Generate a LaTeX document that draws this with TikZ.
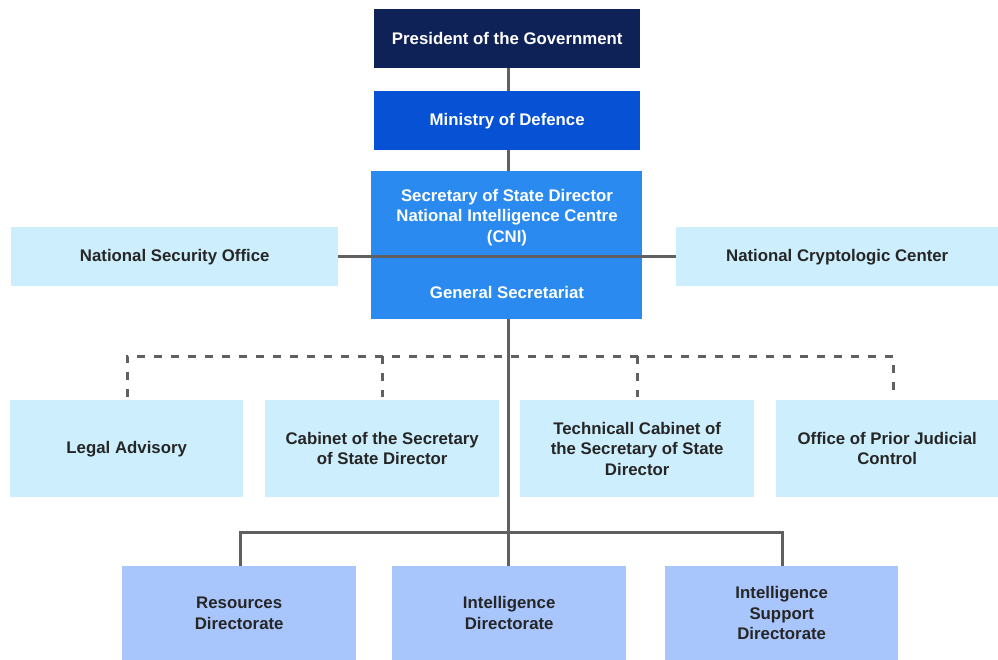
\documentclass[tikz,border=0pt]{standalone}
\usepackage{fontspec}
\setmainfont{Liberation Sans}
\begin{document}
\begin{tikzpicture}[x=1pt,y=-1pt,
  txt/.style={font=\fontsize{16.8}{20.5}\selectfont\bfseries},
  box/.style={anchor=north west, inner sep=0pt, align=center, txt},
  navy/.style={fill=c1, text=white},
  royal/.style={fill=c2, text=white},
  mid/.style={fill=c3, text=white},
  pale/.style={fill=c4, text=black!85},
  lav/.style={fill=c5, text=black!85},
  conn/.style={draw=lc, line width=3pt},
  dconn/.style={draw=lc, line width=3pt, dash pattern=on 8pt off 9pt}]
\definecolor{c1}{HTML}{0F2257}
\definecolor{c2}{HTML}{0651D4}
\definecolor{c3}{HTML}{2A8AF0}
\definecolor{c4}{HTML}{CDEEFC}
\definecolor{c5}{HTML}{A8C6FC}
\definecolor{lc}{HTML}{606060}
\useasboundingbox (0,0) rectangle (998,660);
% boxes
\node[box,navy,minimum width=266pt,minimum height=59pt] (pres) at (374,9) {President of the Government};
\node[box,royal,minimum width=266pt,minimum height=59pt] (mod) at (374,91) {Ministry of Defence};
\node[box,mid,minimum width=271pt,minimum height=148pt] (cni) at (371,171) {};
\node[align=center,text=white,txt] (cnit) at (507,217.5) {Secretary of State Director\\National Intelligence Centre\\(CNI)};
\node[align=center,text=white,txt] (gs) at (507,292) {General Secretariat};
\node[box,pale,minimum width=327pt,minimum height=59pt] (nso) at (11,227) {National Security Office};
\node[box,pale,minimum width=322pt,minimum height=59pt] (ncc) at (676,227) {National Cryptologic Center};
\node[box,pale,minimum width=233pt,minimum height=97pt] (legal) at (10,400) {Legal Advisory};
\node[box,pale,minimum width=234pt,minimum height=97pt] (cab) at (265,400) {Cabinet of the Secretary\\of State Director};
\node[box,pale,minimum width=234pt,minimum height=97pt] (tech) at (520,400) {Technicall Cabinet of\\the Secretary of State\\Director};
\node[box,pale,minimum width=222pt,minimum height=97pt] (opj) at (776,400) {Office of Prior Judicial\\Control};
\node[box,lav,minimum width=234pt,minimum height=94pt] (res) at (122,566) {Resources\\Directorate};
\node[box,lav,minimum width=234pt,minimum height=94pt] (intel) at (392,566) {Intelligence\\Directorate};
\node[box,lav,minimum width=233pt,minimum height=94pt] (sup) at (665,566) {Intelligence\\Support\\Directorate};
% connectors
\coordinate (dl) at (127,356);
\coordinate (dr) at (893,356);
\coordinate (sl) at (240,532);
\coordinate (sr) at (782,532);
\coordinate (vx) at (508,0);
\draw[conn] (pres.south -| vx) -- (mod.north -| vx);
\draw[conn] (mod.south -| vx) -- (cni.north -| vx);
\draw[conn] (nso.east) -- (ncc.west);
\draw[dconn] (127,397) -- (dl) -- (dr) -- (893,397);
\draw[dconn] (382,356) -- (382,397);
\draw[dconn] (637,356) -- (637,397);
\draw[conn] (cni.south -| vx) -- (intel.north -| vx);
\draw[conn] (res.north -| sl) -- (sl) -- (sr) -- (sup.north -| sr);
\end{tikzpicture}
\end{document}
